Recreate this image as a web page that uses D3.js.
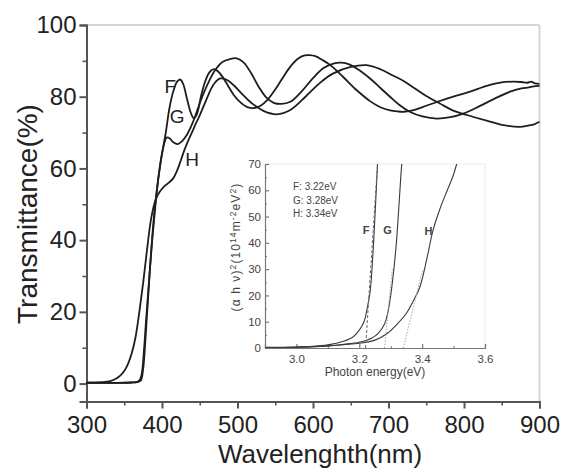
<!DOCTYPE html>
<html>
<head>
<meta charset="utf-8">
<script src="https://cdn.jsdelivr.net/npm/d3@7"></script>
<style>
  html, body { margin: 0; padding: 0; background: #fff; }
  svg { display: block; }
  text { font-family: "Liberation Sans", Arial, sans-serif; }
</style>
</head>
<body>
<svg id="chart" width="565" height="472"></svg>
<script>
// ---------------- data ----------------
const xTicks = [300, 400, 500, 600, 700, 800, 900];
const yTicks = [0, 20, 40, 60, 80, 100];

const fWave = [300, 340, 360, 368, 372, 375, 378, 381, 385, 390, 395, 400, 405, 410, 415, 420, 424, 428, 433, 438, 442, 446, 452, 456, 461, 465, 469, 474, 480, 487, 495, 505, 513, 521, 530, 540, 550, 560, 570, 580, 589, 596, 603, 612, 623, 640, 658, 676, 690, 702, 712, 720, 730, 745, 765, 790, 808, 830, 850, 865, 876, 884, 889, 894, 900];
const fTrans = [0.2, 0.2, 0.3, 0.5, 0.9, 4, 12, 22, 35, 48, 57, 64, 70, 77, 81.5, 84.2, 84.8, 83.6, 79.5, 75.6, 74, 75, 80.5, 83.5, 86.2, 87.3, 87.7, 87.1, 85.6, 83.2, 80.5, 78.2, 77.1, 76.8, 77.4, 79.2, 82, 85.3, 88.4, 90.6, 91.5, 91.6, 91.3, 90.3, 88.8, 85.5, 81.8, 78.7, 77, 76.2, 75.9, 75.8, 76.1, 77.1, 78.6, 80.3, 81.4, 83, 84, 84.2, 84.1, 83.9, 84.2, 83.7, 83.6];

const gWave = [300, 340, 360, 366, 370, 373, 376, 379, 383, 387, 391, 395, 399, 403, 406, 410, 415, 421, 427, 433, 440, 446, 452, 460, 470, 480, 490, 499, 508, 518, 528, 538, 548, 558, 570, 585, 600, 614, 628, 638, 648, 660, 676, 690, 702, 715, 728, 745, 764, 782, 799, 820, 840, 861, 876, 886, 892, 900];
const gTrans = [0.2, 0.2, 0.3, 0.4, 0.8, 2.5, 9, 18, 29, 40, 49, 57, 63, 67, 68.6, 68.4, 67.3, 66.8, 67.7, 69.4, 72.4, 75.8, 79.3, 83.3, 87.3, 89.7, 90.5, 90.7, 89.6, 86.6, 82.8, 79.8, 78.3, 78, 78.6, 81.5, 85.2, 88, 89.3, 89.5, 89, 87.6, 85, 82.3, 80, 77.6, 75.8, 74.5, 73.9, 74.3, 75.3, 77.3, 79.4, 81.4, 82.3, 82.6, 82.9, 83];

const hWave = [300, 320, 330, 340, 345, 350, 355, 360, 365, 370, 375, 380, 386, 392, 397, 403, 410, 415, 420, 425, 430, 435, 440, 445, 450, 455, 460, 465, 470, 477, 485, 495, 505, 520, 535, 552, 570, 590, 610, 627, 650, 671, 690, 705, 720, 735, 750, 768, 785, 804, 830, 852, 874, 886, 893, 900];
const hTrans = [0.3, 0.4, 0.6, 1.5, 2.3, 3.5, 5.5, 8.5, 13, 20, 28, 37, 46.5, 51.5, 53.5, 55, 56.2, 57.3, 59.4, 62.3, 65.3, 67.9, 70.2, 72.6, 74.8, 77.3, 79.8, 82.2, 83.9, 85.1, 84.8, 83.2, 81, 78, 76, 75.1, 76.3, 80, 84, 86.5, 88.3, 88.8, 87.6, 86, 84.4, 82.3, 80.2, 78.1, 76.2, 74.9, 73.3, 72.1, 71.6, 72, 72.3, 73];

// inset: Tauc plot (alpha h nu)^2 vs photon energy
const insetXTicks = [3.0, 3.2, 3.4, 3.6];
const insetYTicks = [0, 10, 20, 30, 40, 50, 60, 70];
const fEnergy = [2.9, 3.0, 3.05, 3.1, 3.15, 3.18, 3.2, 3.215, 3.225, 3.235, 3.243, 3.249, 3.254, 3.258, 3.262];
const fTauc   = [0.3, 0.4, 0.6, 1.2, 2.6, 4.2, 6.8, 10, 15, 22, 35, 48, 60, 70, 80];
const gEnergy = [2.9, 3.0, 3.1, 3.15, 3.2, 3.24, 3.26, 3.28, 3.29, 3.3, 3.31, 3.318, 3.325, 3.332, 3.335, 3.338];
const gTauc   = [0.2, 0.3, 0.8, 1.4, 2.2, 3.8, 5.6, 9, 13, 20, 30, 40, 52, 65, 70, 76];
const hEnergy = [2.9, 3.0, 3.1, 3.15, 3.2, 3.25, 3.29, 3.32, 3.35, 3.37, 3.393, 3.415, 3.435, 3.46, 3.48, 3.5, 3.51, 3.525];
const hTauc   = [0.2, 0.3, 0.8, 1.3, 1.8, 3, 5.6, 9, 13.2, 17.5, 23.3, 34, 44.9, 54, 60, 66, 70, 75];
const fFitE = [3.22, 3.258]; const fFitY = [0, 70];
const gFitE = [3.28, 3.305]; const gFitY = [0, 30];
const hFitE = [3.34, 3.402]; const hFitY = [0, 30];
const gapLabels = ["F: 3.22eV", "G: 3.28eV", "H: 3.34eV"];

// ---------------- drawing ----------------
const svg = d3.select("#chart");
const M = { left: 86.5, right: 539.5, top: 25, bottom: 401.5 };
const x = d3.scaleLinear().domain([300, 900]).range([M.left, M.right]);
const y = d3.scaleLinear().domain([-5, 100]).range([M.bottom, M.top]);

// frame (light top/right)
svg.append("line").attr("x1", M.left).attr("x2", M.right).attr("y1", M.top).attr("y2", M.top)
  .attr("stroke", "#d6d6d6").attr("stroke-width", 2);
svg.append("line").attr("x1", M.right).attr("x2", M.right).attr("y1", M.top).attr("y2", M.bottom)
  .attr("stroke", "#d6d6d6").attr("stroke-width", 2);

function styleAxis(g, col, w) {
  g.select(".domain").attr("stroke", col).attr("stroke-width", w);
  g.selectAll(".tick line").attr("stroke", col).attr("stroke-width", w);
}

// minor ticks
const xMinor = d3.range(350, 900, 100);
const yMinor = d3.range(10, 100, 20);
const gxm = svg.append("g").attr("transform", `translate(0,${M.bottom})`)
  .call(d3.axisBottom(x).tickValues(xMinor).tickSize(4).tickFormat(""));
styleAxis(gxm, "#555", 1.6);
const gym = svg.append("g").attr("transform", `translate(${M.left},0)`)
  .call(d3.axisLeft(y).tickValues(yMinor).tickSize(4).tickFormat(""));
styleAxis(gym, "#555", 1.6);

const gx = svg.append("g").attr("transform", `translate(0,${M.bottom})`)
  .call(d3.axisBottom(x).tickValues(xTicks).tickSize(7).tickPadding(7).tickFormat(d3.format("d")));
styleAxis(gx, "#555", 2);
gx.selectAll("text").attr("font-size", 24).attr("fill", "#222").attr("dy", "0.71em");

const gy = svg.append("g").attr("transform", `translate(${M.left},0)`)
  .call(d3.axisLeft(y).tickValues(yTicks).tickSize(7).tickPadding(3).tickFormat(d3.format("d")));
styleAxis(gy, "#555", 2);
gy.selectAll("text").attr("font-size", 24).attr("fill", "#222");

// titles
svg.append("text").attr("x", 320).attr("y", 463).attr("text-anchor", "middle")
  .attr("font-size", 26).attr("fill", "#222").text("Wavelenghth(nm)");
svg.append("text").attr("transform", "translate(37,214) rotate(-90)").attr("text-anchor", "middle")
  .attr("font-size", 28).attr("fill", "#222").text("Transmittance(%)");

// curves
const line = d3.line().x(d => x(d[0])).y(d => y(d[1])).curve(d3.curveCatmullRom.alpha(0.5));
const series = [[fWave, fTrans], [gWave, gTrans], [hWave, hTrans]];
series.forEach(([w, t]) => {
  svg.append("path").datum(w.map((v, i) => [v, t[i]]))
    .attr("d", line).attr("fill", "none").attr("stroke", "#1e1e1e").attr("stroke-width", 1.8);
});

// curve labels
const curveLabels = [["F", 411, 83], ["G", 420, 74.5], ["H", 440, 62.5]];
curveLabels.forEach(([t, lx, ly]) => {
  svg.append("text").attr("x", x(lx)).attr("y", y(ly)).attr("text-anchor", "middle")
    .attr("dy", "0.36em").attr("font-size", 19).attr("fill", "#222").text(t);
});

// ---------------- inset ----------------
const I = { left: 265, right: 485, top: 164, bottom: 348 };
const ix = d3.scaleLinear().domain([2.9, 3.6]).range([I.left, I.right]);
const iy = d3.scaleLinear().domain([0, 70]).range([I.bottom, I.top]);

svg.append("rect").attr("x", I.left).attr("y", I.top).attr("width", I.right - I.left)
  .attr("height", I.bottom - I.top).attr("fill", "#fff");
svg.append("line").attr("x1", I.left).attr("x2", I.right).attr("y1", I.top).attr("y2", I.top)
  .attr("stroke", "#ececec").attr("stroke-width", 1);
svg.append("line").attr("x1", I.right).attr("x2", I.right).attr("y1", I.top).attr("y2", I.bottom)
  .attr("stroke", "#ececec").attr("stroke-width", 1);

svg.append("clipPath").attr("id", "insetClip").append("rect")
  .attr("x", I.left).attr("y", I.top).attr("width", I.right - I.left).attr("height", I.bottom - I.top);

const ixm = svg.append("g").attr("transform", `translate(0,${I.bottom})`)
  .call(d3.axisTop(ix).tickValues([3.1, 3.3, 3.5]).tickSize(2).tickFormat(""));
styleAxis(ixm, "#777", 1);
const iym = svg.append("g").attr("transform", `translate(${I.left},0)`)
  .call(d3.axisRight(iy).tickValues(d3.range(5, 70, 10)).tickSize(2).tickFormat(""));
styleAxis(iym, "#777", 1);

const igx = svg.append("g").attr("transform", `translate(0,${I.bottom})`)
  .call(d3.axisTop(ix).tickValues(insetXTicks).tickSize(4).tickFormat(d3.format(".1f")));
styleAxis(igx, "#777", 1.2);
igx.selectAll("text").attr("font-size", 11.5).attr("fill", "#444").attr("y", 7).attr("dy", "0.71em");

const igy = svg.append("g").attr("transform", `translate(${I.left},0)`)
  .call(d3.axisRight(iy).tickValues(insetYTicks).tickSize(4).tickFormat(d3.format("d")));
styleAxis(igy, "#777", 1.2);
igy.selectAll("text").attr("font-size", 11.5).attr("fill", "#444").attr("x", -4).attr("text-anchor", "end");

svg.append("text").attr("x", 375).attr("y", 376).attr("text-anchor", "middle")
  .attr("font-size", 12).attr("fill", "#444").text("Photon energy(eV)");

const yl = svg.append("text").attr("transform", "translate(240,247) rotate(-90)")
  .attr("text-anchor", "middle").attr("font-size", 12).attr("letter-spacing", 1.1).attr("fill", "#444");
yl.append("tspan").text("(α h ν)");
yl.append("tspan").attr("dy", -4).attr("font-size", 8.5).text("2");
yl.append("tspan").attr("dy", 4).text("(10");
yl.append("tspan").attr("dy", -4).attr("font-size", 8.5).text("14");
yl.append("tspan").attr("dy", 4).text("m");
yl.append("tspan").attr("dy", -4).attr("font-size", 8.5).text("-2");
yl.append("tspan").attr("dy", 4).text("eV");
yl.append("tspan").attr("dy", -4).attr("font-size", 8.5).text("2");
yl.append("tspan").attr("dy", 4).text(")");

gapLabels.forEach((t, i) => {
  svg.append("text").attr("x", 293).attr("y", 190 + i * 13.5).attr("font-size", 10)
    .attr("fill", "#444").text(t);
});

const iline = d3.line().x(d => ix(d[0])).y(d => iy(d[1])).curve(d3.curveCatmullRom.alpha(0.5));
const ig = svg.append("g").attr("clip-path", "url(#insetClip)");
[[fEnergy, fTauc], [gEnergy, gTauc], [hEnergy, hTauc]].forEach(([e, v]) => {
  ig.append("path").datum(e.map((d, i) => [d, v[i]])).attr("d", iline)
    .attr("fill", "none").attr("stroke", "#3a3a3a").attr("stroke-width", 1.1);
});
const fitLine = d3.line().x(d => ix(d[0])).y(d => iy(d[1]));
ig.append("path").datum(fFitE.map((d, i) => [d, fFitY[i]])).attr("d", fitLine)
  .attr("fill", "none").attr("stroke", "#666").attr("stroke-width", 1).attr("stroke-dasharray", "3,2");
ig.append("path").datum(gFitE.map((d, i) => [d, gFitY[i]])).attr("d", fitLine)
  .attr("fill", "none").attr("stroke", "#aaa").attr("stroke-width", 1).attr("stroke-dasharray", "1.5,1.5");
ig.append("path").datum(hFitE.map((d, i) => [d, hFitY[i]])).attr("d", fitLine)
  .attr("fill", "none").attr("stroke", "#aaa").attr("stroke-width", 1).attr("stroke-dasharray", "1.5,1.5");

const insetCurveLabels = [["F", 3.222, 45], ["G", 3.29, 45], ["H", 3.42, 44.5]];
insetCurveLabels.forEach(([t, ex, ev]) => {
  svg.append("text").attr("x", ix(ex)).attr("y", iy(ev)).attr("text-anchor", "middle")
    .attr("dy", "0.36em").attr("font-size", 11).attr("font-weight", "bold").attr("fill", "#444").text(t);
});
</script>
</body>
</html>
